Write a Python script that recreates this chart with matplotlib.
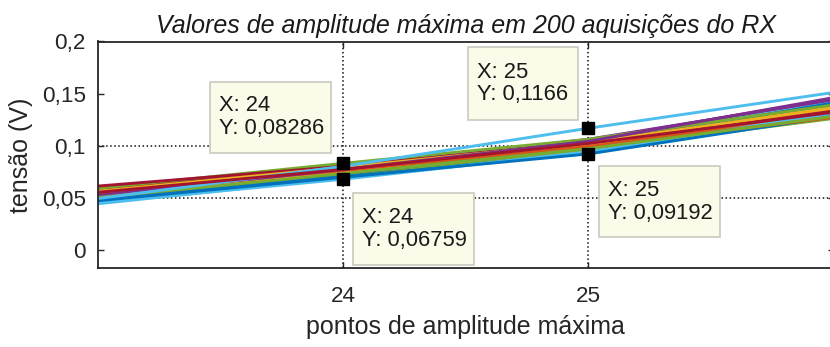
import matplotlib
matplotlib.use("Agg")
import matplotlib.pyplot as plt
from matplotlib.patches import Rectangle

plt.rcParams['font.family'] = ['Liberation Sans', 'DejaVu Sans']

# Sample positions around the amplitude peak
x_points = [23, 24, 25, 26]

# Voltage of each acquisition at the four sample positions
amp_23 = [0.052, 0.055, 0.057, 0.050, 0.048, 0.046, 0.060,
          0.049, 0.053, 0.058, 0.054, 0.045, 0.047, 0.056,
          0.051, 0.057, 0.054, 0.052, 0.059, 0.044, 0.053,
          0.047, 0.050, 0.055, 0.049, 0.057, 0.051, 0.058,
          0.046, 0.052, 0.053, 0.055, 0.050, 0.048, 0.054,
          0.048, 0.056, 0.051, 0.053, 0.059, 0.045, 0.061,
          0.047, 0.054, 0.056, 0.052, 0.050, 0.049, 0.055]
amp_24 = [0.075, 0.077, 0.079, 0.074, 0.072, 0.071, 0.079,
          0.070, 0.074, 0.080, 0.077, 0.070, 0.073, 0.076,
          0.073, 0.078, 0.076, 0.076, 0.081, 0.069, 0.074,
          0.071, 0.073, 0.078, 0.074, 0.079, 0.077, 0.078,
          0.070, 0.075, 0.076, 0.079, 0.072, 0.073, 0.077,
          0.072, 0.077, 0.075, 0.078, 0.08286, 0.06759, 0.080,
          0.0695, 0.076, 0.079, 0.077, 0.073, 0.080, 0.077]
amp_25 = [0.100, 0.101, 0.103, 0.101, 0.097, 0.098, 0.101,
          0.096, 0.099, 0.104, 0.104, 0.095, 0.100, 0.100,
          0.100, 0.100, 0.102, 0.103, 0.104, 0.096, 0.098,
          0.099, 0.098, 0.102, 0.102, 0.100, 0.105, 0.101,
          0.097, 0.099, 0.101, 0.106, 0.096, 0.099, 0.102,
          0.100, 0.100, 0.101, 0.105, 0.106, 0.094, 0.103,
          0.09192, 0.099, 0.103, 0.104, 0.097, 0.1166, 0.102]
amp_26 = [0.134, 0.133, 0.136, 0.137, 0.130, 0.133, 0.132,
          0.131, 0.128, 0.137, 0.141, 0.129, 0.136, 0.131,
          0.139, 0.129, 0.138, 0.140, 0.135, 0.132, 0.130,
          0.140, 0.131, 0.134, 0.142, 0.127, 0.143, 0.131,
          0.138, 0.129, 0.135, 0.144, 0.126, 0.135, 0.133,
          0.141, 0.130, 0.137, 0.145, 0.139, 0.131, 0.135,
          0.128, 0.127, 0.136, 0.146, 0.128, 0.151, 0.132]

# Data tips
tip_x = [24, 25, 24, 25]
tip_y = [0.08286, 0.1166, 0.06759, 0.09192]

x_ticks = [24, 25]
y_ticks = [0, 0.05, 0.1, 0.15, 0.2]
grid_y = [0.05, 0.1]

line_colors = ['#0072BD', '#D95319', '#EDB120', '#7E2F8E',
               '#77AC30', '#4DBEEE', '#A2142F']
ink = '#262626'

fig = plt.figure(figsize=(8.3, 3.47), dpi=100)
ax = fig.add_axes([97.7 / 830, 78.7 / 347, 735.8 / 830, 226.8 / 347])
ax.set_xlim(23, 26)
ax.set_ylim(-0.018, 0.2)

# dotted reference lines
for v in x_ticks:
    ax.axvline(v, ls=':', color='#111111', lw=1.1, zorder=1)
for h in grid_y:
    ax.axhline(h, ls=':', color='#111111', lw=1.1, zorder=1)

for i in range(len(amp_23)):
    ax.plot(x_points, [amp_23[i], amp_24[i], amp_25[i], amp_26[i]],
            color=line_colors[i % len(line_colors)], lw=2.1, zorder=2,
            solid_capstyle='butt')

ax.plot(tip_x, tip_y, ls='none', marker='s', ms=8.6, color='black',
        zorder=4)

# data-tip boxes: (left, bottom, right, top) in data units
box_extents = [(23.458, 0.0933, 23.951, 0.1614),
               (24.511, 0.1249, 24.957, 0.1943),
               (24.040, -0.0151, 24.534, 0.0543),
               (25.044, 0.0121, 25.537, 0.0799)]
for (x0, y0, x1, y1), tx, ty in zip(box_extents, tip_x, tip_y):
    ax.add_patch(Rectangle((x0, y0), x1 - x0, y1 - y0, facecolor='#fbfbe9',
                           edgecolor='#c9c9c0', lw=1.2, zorder=5))
    label = f"X: {tx}\nY: {ty:.4g}".replace('.', ',')
    ax.text(x0 + 0.037, (y0 + y1) / 2, label, ha='left', va='center',
            fontsize=15.8, linespacing=1.1, color='#1a1a1a', zorder=6)

ax.set_xticks(x_ticks)
ax.set_xticklabels([str(v) for v in x_ticks])
ax.set_yticks(y_ticks)
ax.set_yticklabels(['0' if v == 0 else f"{v:g}".replace('.', ',')
                    for v in y_ticks])

ax.tick_params(direction='in', length=4, width=1, top=True, right=True,
               labelsize=16.2, colors=ink, labelcolor=ink)
ax.tick_params(axis='x', pad=12.5)
ax.tick_params(axis='y', pad=8.5)

for s in ax.spines.values():
    s.set_linewidth(1.3)
    s.set_color(ink)

ax.set_title("Valores de amplitude máxima em 200 aquisições do RX",
             fontsize=18, style='italic', pad=6, color='#1a1a1a')
ax.set_xlabel('pontos de amplitude máxima', fontsize=18, labelpad=6,
              color=ink)
ax.set_ylabel('tensão (V)', fontsize=18, labelpad=6, color=ink)

fig.savefig('out.png', dpi=100)
